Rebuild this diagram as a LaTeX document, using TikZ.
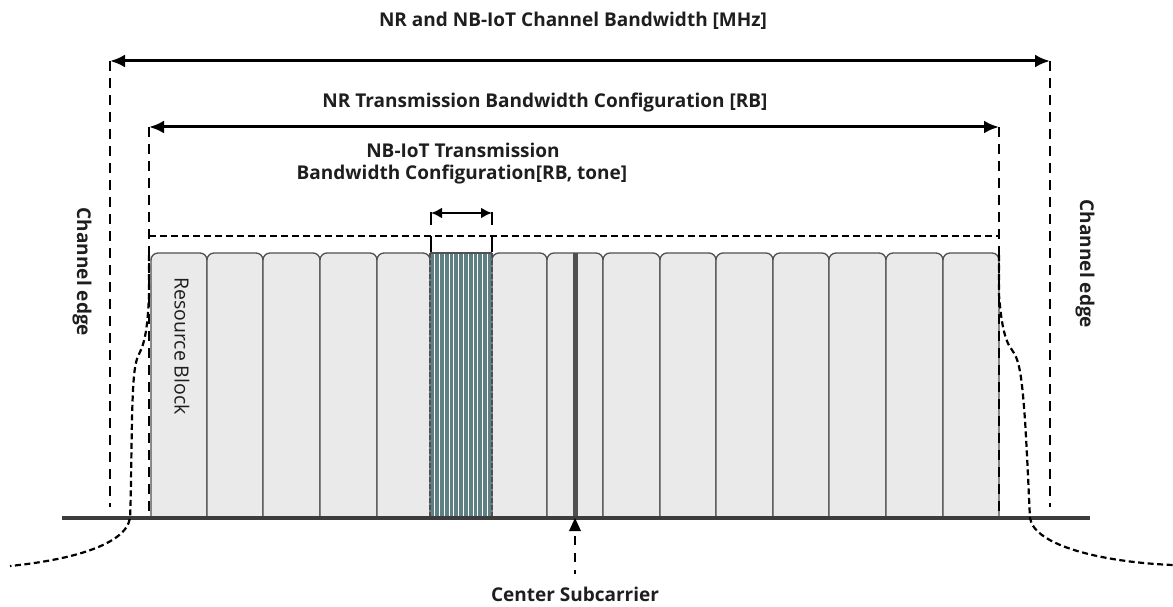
\documentclass[tikz,border=0pt]{standalone}
\usepackage{fontspec}
\setmainfont{Open Sans}
\usetikzlibrary{arrows.meta}
\definecolor{blockfill}{HTML}{EAEAEA}
\definecolor{blockline}{HTML}{505050}
\definecolor{nbfill}{HTML}{5E8082}
\definecolor{baseclr}{HTML}{3C3C3C}
\definecolor{txt}{HTML}{1E1E1E}
\begin{document}
\begin{tikzpicture}[x=1pt,y=-1pt,
  title/.style={font=\bfseries\fontsize{19}{22}\selectfont, text=txt, inner sep=0pt},
  rbtext/.style={font=\fontsize{19.5}{22}\selectfont, text=txt, inner sep=0pt},
  dimarrow/.style={line width=3pt, {Latex[length=15pt,width=13pt]}-{Latex[length=15pt,width=13pt]}},
  smallarrow/.style={line width=2.4pt, {Latex[length=11pt,width=11pt]}-{Latex[length=11pt,width=11pt]}},
  vdash/.style={line width=2.8pt, dash pattern=on 10pt off 7pt},
  boxdash/.style={line width=2.2pt, dash pattern=on 7pt off 4pt},
  mask/.style={line width=2.2pt, dash pattern=on 6pt off 3.5pt},
  rb/.style={fill=blockfill, draw=blockline, line width=1.3pt, rounded corners=7pt},
  tick/.style={line width=2.2pt},
]
\useasboundingbox (0,0) rectangle (1173,607);

% ---- titles
\node[title] (t1) at (573,21) {NR and NB-IoT Channel Bandwidth [MHz]};
\node[title] (t2) at (545,103) {NR Transmission Bandwidth Configuration [RB]};
\node[title] (t3a) at (463,150) {NB-IoT Transmission};
\node[title] (t3b) at (462,175) {Bandwidth Configuration[RB, tone]};
\node[title, rotate=-90] (ce1) at (82,272) {Channel edge};
\node[title, rotate=-90] (ce2) at (1085,264) {Channel edge};

% ---- resource blocks (clipped at the baseline)
\begin{scope}
  \clip (0,0) rectangle (1173,518);
  \foreach \a/\b in {151/207,207/263,263/320,320/377,377/430,492/547,547/603,603/660,660/716,716/773,773/829,829/886,886/943,943/999}{
    \draw[rb] (\a,540) rectangle (\b,253);
  }
\end{scope}
\node[rbtext, rotate=-90] (rbl) at (182,346) {Resource Block};

% ---- NB-IoT block
\fill[nbfill] (430,253) rectangle (492,518);
\foreach \k in {1,...,12}{
  \draw[white, line width=0.8pt] ({430+\k*62/13},253) -- ({430+\k*62/13},518);
}
\draw[blockline, line width=1.3pt, dash pattern=on 5pt off 2pt] (430,253) -- (430,518);
\draw[blockline, line width=1.3pt, dash pattern=on 5pt off 2pt] (492,253) -- (492,518);
\draw[blockline, line width=1.3pt] (430,253) -- (492,253);

% ---- center subcarrier
\coordinate (csTop) at (575,253);
\coordinate (csBot) at (575,518);
\draw[blockline, line width=5pt] (csTop) -- (csBot);

% ---- baseline
\coordinate (bl) at (62,518);
\coordinate (br) at (1090,518);
\draw[baseclr, line width=3.2pt] (bl) -- (br);

% ---- outer channel bandwidth
\coordinate (oL) at (110,61);
\coordinate (oR) at (1050,61);
\coordinate (oLb) at (110,507);
\coordinate (oRb) at (1050,507);
\draw[dimarrow] (oL) -- (oR);
\draw[vdash] (oL) -- (oLb);
\draw[vdash] (oR) -- (oRb);

% ---- inner transmission bandwidth
\coordinate (iL) at (149,127);
\coordinate (iR) at (999,127);
\coordinate (iLb) at (149,518);
\coordinate (iRb) at (999,518);
\draw[dimarrow] (iL) -- (iR);
\draw[vdash] (iL) -- (iLb);
\draw[vdash] (iR) -- (iRb);

% ---- dashed box top
\coordinate (bxL) at (149,236);
\coordinate (bxR) at (999,236);
\draw[boxdash] (bxL) -- (bxR);

% ---- NB-IoT small dimension
\coordinate (nL) at (431,213);
\coordinate (nR) at (492,213);
\draw[smallarrow] (nL) -- (nR);
\draw[tick] (431,212) -- (431,225);
\draw[tick] (492,212) -- (492,225);
\draw[tick] (431,236) -- (431,252);
\draw[tick] (492,236) -- (492,252);

% ---- spectrum mask
\draw[mask] (149,255) -- (149,295) .. controls (148,320) and (146,340) .. (140,352)
  .. controls (134,362) and (133,380) .. (132,420)
  .. controls (131,470) and (131,500) .. (130,518)
  .. controls (126,545) and (70,560) .. (10,566);
\draw[mask] (999,255) -- (999,295) .. controls (1001,320) and (1004,340) .. (1012,350)
  .. controls (1020,360) and (1022,380) .. (1025,420)
  .. controls (1028,470) and (1029,500) .. (1030,518)
  .. controls (1034,545) and (1100,562) .. (1173,565);

% ---- center subcarrier marker
\coordinate (triTip) at (575,518);
\fill[black] (triTip) -- (569,531) -- (581,531) -- cycle;
\coordinate (csA) at (575,536);
\coordinate (csB) at (575,574);
\draw[line width=2.4pt, dash pattern=on 9pt off 8pt] (csA) -- (csB);
\node[title] (cs) at (575,594) {Center Subcarrier};
\end{tikzpicture}
\end{document}
